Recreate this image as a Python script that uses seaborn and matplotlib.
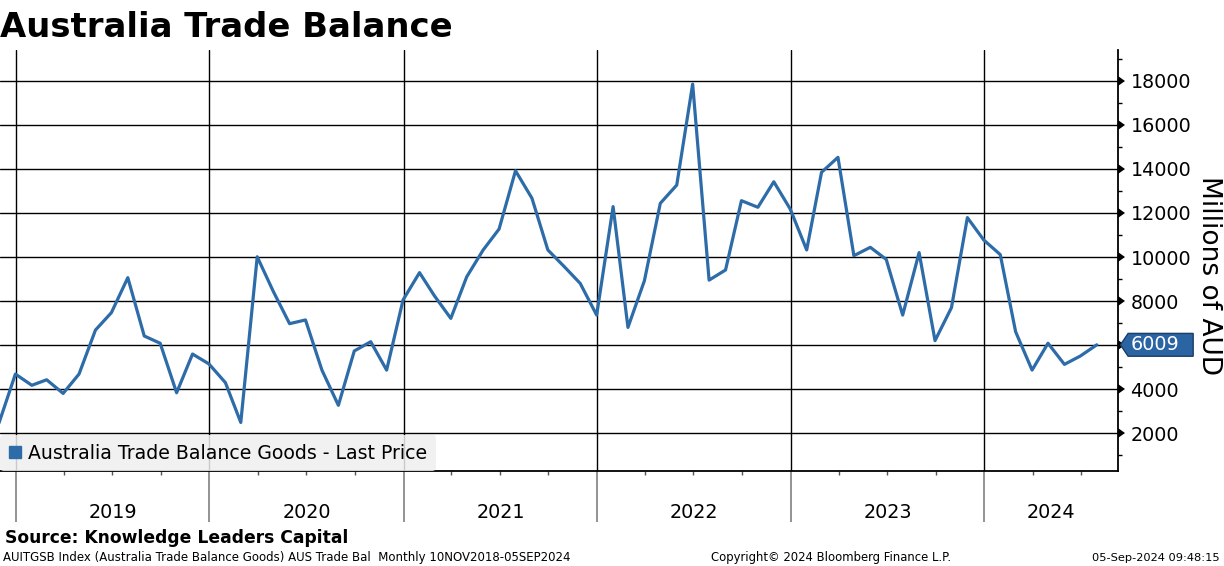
import matplotlib
matplotlib.use("Agg")

import numpy as np
import pandas as pd
import seaborn as sns
import matplotlib.pyplot as plt
import matplotlib.dates as mdates
from matplotlib.lines import Line2D
from matplotlib.path import Path
from matplotlib.ticker import MultipleLocator, FixedLocator

# monthly goods trade balance, millions of AUD, Nov 2018 - Jul 2024
first_month = "2018-11-30"
vals_2018 = [2450, 4680]
vals_2019 = [4170, 4420, 3800, 4680, 6680, 7470, 9060, 6410, 6080, 3830, 5590, 5140]
vals_2020 = [4290, 2480, 10010, 8450, 6970, 7140, 4860, 3260, 5730, 6150, 4860, 8050]
vals_2021 = [9290, 8240, 7210, 9100, 10320, 11270, 13920, 12670, 10320, 9560, 8800, 7360]
vals_2022 = [12290, 6800, 8920, 12440, 13270, 17860, 8950, 9410, 12560, 12260, 13420, 12180]
vals_2023 = [10320, 13850, 14530, 10060, 10440, 9890, 7360, 10200, 6200, 7700, 11790, 10770]
vals_2024 = [10110, 6600, 4860, 6080, 5120, 5500, 6009]

years = [2019, 2020, 2021, 2022, 2023, 2024]
y_ticks = [2000, 4000, 6000, 8000, 10000, 12000, 14000, 16000, 18000]

series_name = "Australia Trade Balance Goods - Last Price"
title = "Australia Trade Balance"
y_label = "Millions of AUD"
source = "Source: Knowledge Leaders Capital"
foot_left = "AUITGSB Index (Australia Trade Balance Goods) AUS Trade Bal  Monthly 10NOV2018-05SEP2024"
foot_mid = "Copyright\u00a9 2024 Bloomberg Finance L.P."
foot_right = "05-Sep-2024 09:48:15"

values = vals_2018 + vals_2019 + vals_2020 + vals_2021 + vals_2022 + vals_2023 + vals_2024
dates = pd.date_range(first_month, periods=len(values), freq="ME")
df = pd.DataFrame({"date": dates, "value": values})

blue = "#2d6ca8"
tag_blue = "#2a64a2"


def price_tag(x0, y0, width, height, mutation_size):
    # pentagon pointing left, Bloomberg style last price tag
    m = mutation_size
    left = x0 - 0.15 * m
    right = x0 + width + 0.7 * m
    bottom = y0 - 0.1 * m
    top = y0 + height + 0.1 * m
    tip = left - 0.4 * m
    verts = [(tip, (bottom + top) / 2), (left, bottom), (right, bottom),
             (right, top), (left, top), (tip, (bottom + top) / 2)]
    codes = [Path.MOVETO] + [Path.LINETO] * 4 + [Path.CLOSEPOLY]
    return Path(verts, codes)


sns.set_style("white")
plt.rcParams["font.family"] = ["DejaVu Sans"]
plt.rcParams["text.color"] = "black"
plt.rcParams["xtick.color"] = "black"
plt.rcParams["ytick.color"] = "black"

fig = plt.figure(figsize=(12.24, 5.66), dpi=100)
ax = fig.add_axes([0.0, 0.1678, 0.9134, 0.7439])

sns.lineplot(data=df, x="date", y="value", ax=ax, color=blue, lw=2.3, legend=False)

ax.set_xlim(pd.Timestamp("2018-12-02"), pd.Timestamp("2024-09-09"))
ax.set_ylim(273, 19409)
ax.set_xlabel("")
ax.set_ylabel("")

# y axis on the right
ax.yaxis.tick_right()
ax.yaxis.set_major_locator(FixedLocator(y_ticks))
ax.yaxis.set_minor_locator(MultipleLocator(1000))
ax.tick_params(axis="y", which="major", right=True, left=False, labelright=True,
               labelleft=False, length=6, pad=3, labelsize=13.8, colors="black")
ax.tick_params(axis="y", which="minor", right=True, left=False, length=3,
               width=1, color="black")

# x axis: year boundaries and quarter ticks
year_starts = [pd.Timestamp(f"{y}-01-01") for y in years]
ax.xaxis.set_major_locator(FixedLocator(mdates.date2num(year_starts)))
ax.xaxis.set_minor_locator(mdates.MonthLocator(bymonth=[4, 7, 10]))
ax.tick_params(axis="x", which="major", bottom=True, length=37, width=1.3,
               color="#8a8a8a", labelbottom=False)
ax.tick_params(axis="x", which="minor", bottom=True, length=3, width=1,
               color="#555555")

ax.grid(True, which="major", color="black", lw=1)
ax.set_axisbelow(True)

for side in ["top", "left"]:
    ax.spines[side].set_visible(False)
ax.spines["right"].set_color("black")
ax.spines["right"].set_linewidth(1.3)
ax.spines["bottom"].set_color("black")
ax.spines["bottom"].set_linewidth(1.3)

# year labels centred in the visible part of each year
x0, x1 = mdates.num2date(ax.get_xlim()[0]), mdates.num2date(ax.get_xlim()[1])
for y in years:
    start = max(pd.Timestamp(f"{y}-01-01", tz="UTC"), pd.Timestamp(x0))
    end = min(pd.Timestamp(f"{y + 1}-01-01", tz="UTC"), pd.Timestamp(x1))
    mid = start + (end - start) / 2
    ax.text(mdates.date2num(mid), -0.098, str(y), transform=ax.get_xaxis_transform(),
            ha="center", va="center", fontsize=13.8, color="black")

# legend
handle = Line2D([], [], marker="s", ls="none", color=blue, markersize=8.5)
leg = ax.legend([handle], [series_name], loc="lower left", bbox_to_anchor=(0, 0),
                borderaxespad=0, fontsize=13.6, handlelength=0.7, handletextpad=0.35,
                borderpad=0.45, frameon=True, fancybox=True, labelcolor="black")
leg.get_frame().set_facecolor("#efefef")
leg.get_frame().set_edgecolor("none")
leg.get_frame().set_alpha(0.85)

# last price tag
last = values[-1]
ax.annotate(f"{last:.0f}", xy=(1, last), xycoords=ax.get_yaxis_transform(),
            xytext=(13, 0), textcoords="offset pixels", ha="left", va="center",
            fontsize=13.8, color="white", annotation_clip=False,
            bbox=dict(boxstyle=price_tag, fc=tag_blue, ec="#1b3d66", lw=1))

# triangle major ticks on the right axis
for t in ax.yaxis.get_major_ticks():
    t.tick2line.set_marker(9)
    t.tick2line.set_markersize(7)
    t.tick2line.set_markeredgewidth(0)

fig.text(1209 / 1224, 1 - 276 / 566, y_label, rotation=270, ha="center", va="center",
         fontsize=19, color="black")

fig.text(0.0, 1 - 37 / 566, title, ha="left", va="baseline", fontsize=24.4,
         fontweight="bold", color="black")
fig.text(5 / 1224, 1 - 543 / 566, source, ha="left", va="baseline", fontsize=12.3,
         fontweight="bold", color="black")
fig.text(3 / 1224, 1 - 561 / 566, foot_left, ha="left", va="baseline", fontsize=8.45)
fig.text(831 / 1224, 1 - 561 / 566, foot_mid, ha="center", va="baseline", fontsize=8.4)
fig.text(1220 / 1224, 1 - 561 / 566, foot_right, ha="right", va="baseline", fontsize=8.2)

fig.savefig("out.png", dpi=100)
